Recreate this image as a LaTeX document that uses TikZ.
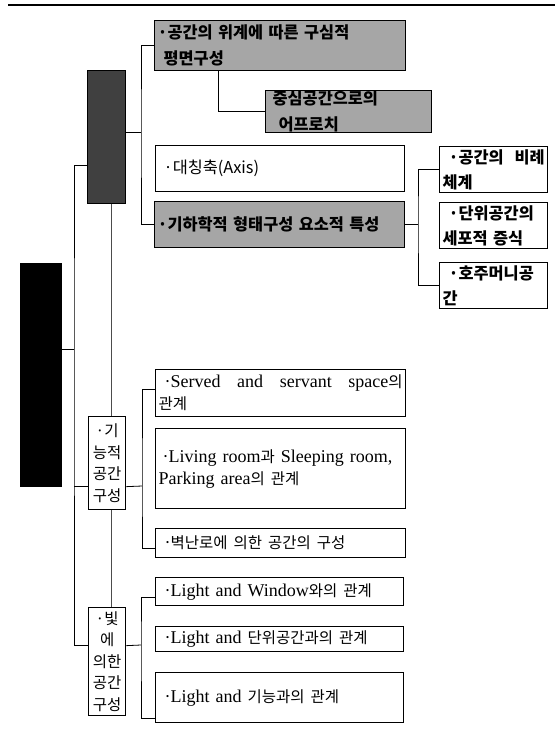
\documentclass[tikz,border=0pt]{standalone}
\usepackage{fontspec}
\setmainfont{Liberation Serif}
\newfontfamily\krfont[Scale=0.86]{Noto Sans CJK KR}
\newcommand{\ko}[1]{{\krfont #1}}

\tikzset{
  box/.style={draw, line width=1.3pt, anchor=north west, inner xsep=3pt, inner ysep=0pt,
    align=left, fill=white, font=\fontsize{18}{22}\selectfont},
  shaded/.style={box, fill=black!35, font=\fontsize{19}{26}\selectfont\krfont\bfseries},
  krbox/.style={box, font=\fontsize{19}{25}\selectfont\krfont},
  narrow/.style={box, font=\fontsize{19}{25}\selectfont\krfont\bfseries,
    minimum width=108pt, minimum height=46pt, text width=102pt},
  side/.style={box, align=center, inner xsep=0pt, text width=37pt, minimum width=37pt,
    font=\fontsize{18}{21.5}\selectfont\krfont},
  link/.style={line width=0.8pt},
}

\begin{document}
\begin{tikzpicture}[x=1pt, y=-1pt]
  \useasboundingbox (0,0) rectangle (558,739);

  % rule on top of the page
  \draw[line width=2.5pt] (8,5) -- (555,5);

  % left column
  \node[box, fill=black, minimum width=41pt, minimum height=223pt] (root) at (20,263) {};
  \node[box, fill=black!75, minimum width=38pt, minimum height=133pt] (plan) at (87,70) {};
  \node[side, minimum height=93pt] (func) at (88,416) {·기\\능적\\공간\\구성};
  \node[side, minimum height=108pt] (light) at (88,607) {·빛\\에\\의한\\공간\\구성};

  % plan branch
  \node[shaded, minimum width=251pt, minimum height=50pt, text width=245pt] (center) at (154,20)
    {·공간의 위계에 따른 구심적\\\hspace{6pt}평면구성};
  \node[shaded, minimum width=166pt, minimum height=42pt, text width=160pt] (approach) at (265,90)
    {\hspace{4pt}중심공간으로의\\\hspace{10pt}어프로치};
  \node[krbox, minimum width=249pt, minimum height=46pt, text width=243pt] (axis) at (155,145)
    {\hspace{5pt}·대칭축(Axis)};
  \node[shaded, minimum width=250pt, minimum height=46pt, text width=244pt] (geom) at (154,201)
    {·기하학적 형태구성 요소적 특성};
  \node[narrow] (ratio) at (439,146) {\hspace{6pt}·공간의\hfill 비례\\체계};
  \node[narrow] (cell) at (439,202) {\hspace{6pt}·단위공간의\\세포적 증식};
  \node[narrow] (pocket) at (439,262) {\hspace{6pt}·호주머니공\\간};

  % function branch
  \node[box, minimum width=250pt, minimum height=47pt, text width=244pt] (served) at (155,369)
    {\hspace{6pt}·Served\hfill and\hfill servant\hfill space\ko{의}\\\ko{관계}};
  \node[box, minimum width=250pt, minimum height=80pt, text width=244pt] (living) at (155,428)
    {\hspace{4pt}·Living room\ko{과} Sleeping room,\\Parking area\ko{의 관계}};
  \node[box, minimum width=250pt, minimum height=29pt, text width=244pt] (fire) at (155,528)
    {\hspace{6pt}·\ko{벽난로에 의한 공간의 구성}};

  % light branch
  \node[box, minimum width=248pt, minimum height=28pt, text width=242pt] (window) at (155,577)
    {\hspace{6pt}·Light and Window\ko{와의 관계}};
  \node[box, minimum width=248pt, minimum height=25pt, text width=242pt] (unit) at (155,626)
    {\hspace{6pt}·Light and \ko{단위공간과의 관계}};
  \node[box, minimum width=248pt, minimum height=50pt, text width=242pt] (use) at (155,672)
    {\hspace{6pt}·Light and \ko{기능과의 관계}};

  % trunk
  \coordinate (trunk) at (74,349);
  \draw[link] (root.east |- trunk) -- (trunk);
  \draw[link] ([yshift=-28.5pt]plan.west) -| (trunk) |- ([yshift=16pt]light.west);
  \draw[link] ([yshift=-23.5pt]func.west) -- ++(-14,0);
  \draw[link, black!70] ([xshift=5pt]plan.south) -- ([xshift=4.5pt]func.north);
  \draw[link, black!70] ([xshift=4.5pt]func.south) -- ([xshift=4.5pt]light.north);

  % plan connectors
  \coordinate (bus1) at (141,132);
  \draw[link] (plan.east |- bus1) -- (bus1);
  \draw[link] (center.west) -| (bus1) |- (geom.west);
  \draw[link] ([xshift=-61.5pt]center.south) |- (approach.west);
  \coordinate (bus2) at (418,222);
  \draw[link] (geom.east) -- (geom.east -| bus2);
  \draw[link] (ratio.west) -| (bus2) |- (pocket.west);

  % function connectors
  \coordinate (bus3) at (142,486);
  \draw[link] ([yshift=-23.5pt]func.east) -- (bus3);
  \draw[link] ([yshift=3.5pt]served.west) -| (bus3) |- ([yshift=-5.5pt]fire.west);

  % light connectors
  \coordinate (bus4) at (141,645);
  \draw[link] ([yshift=16pt]light.east) -- (bus4);
  \draw[link] ([yshift=-6pt]window.west) -| (bus4) |- ([yshift=-21pt]use.west);
\end{tikzpicture}
\end{document}
